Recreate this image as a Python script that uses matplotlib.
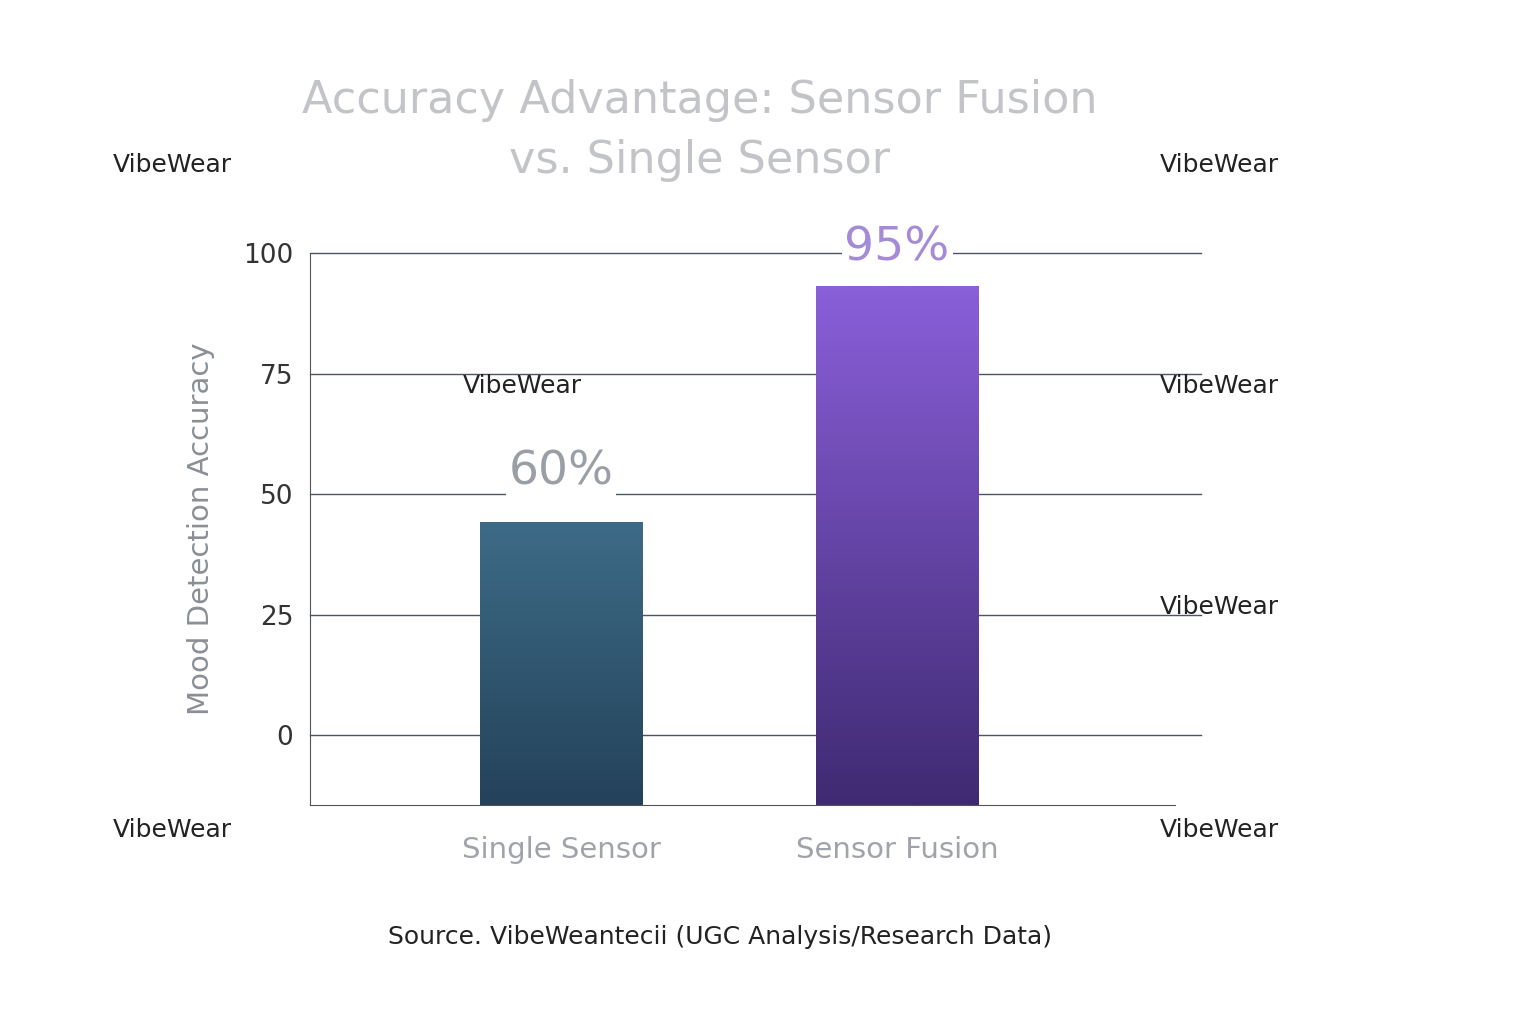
import matplotlib
matplotlib.use("Agg")
import matplotlib.pyplot as plt
import numpy as np
from matplotlib.colors import LinearSegmentedColormap

categories = ["Single Sensor", "Sensor Fusion"]
bar_heights = [44, 93]
value_labels = ["60%", "95%"]
yticks = [0, 25, 50, 75, 100]

fig = plt.figure(figsize=(15.36, 10.24), dpi=100)
ax = fig.add_axes([310/1536, (1024-805)/1024, 865/1536, 552/1024])
ymin, ymax = -14.5, 100
ax.set_xlim(-0.747, 1.827)
ax.set_ylim(ymin, ymax)
for y in yticks:
    ax.axhline(y, color="#4a5563", lw=1, xmin=0, xmax=1.03, clip_on=False, zorder=0)

cmaps = [LinearSegmentedColormap.from_list("a", ["#24425a", "#3d6b87"]),
         LinearSegmentedColormap.from_list("b", ["#3f2a72", "#8a5fd9"])]
w = 0.485
grad = np.linspace(0, 1, 256).reshape(-1, 1)
for i, (h, c) in enumerate(zip(bar_heights, cmaps)):
    ax.bar(i, h - ymin, bottom=ymin, width=w, color="none", edgecolor="none")
    ax.imshow(grad, extent=(i - w/2, i + w/2, ymin, h), origin="lower",
              cmap=c, aspect="auto", zorder=2)
    ax.text(i, h + 10.5 if i == 0 else 101, value_labels[i], ha="center", va="center",
            fontsize=34, color="#9a9fa6" if i == 0 else "#a58ad8", zorder=3,
            bbox=dict(facecolor="white", edgecolor="none", pad=2))

ax.set_xticks([0, 1])
ax.set_xticklabels(categories, fontsize=21, color="#a0a4aa")
ax.tick_params(axis="x", length=0, pad=22)
ax.set_yticks(yticks)
ax.set_yticklabels([str(t) for t in yticks], fontsize=19, color="#333")
ax.tick_params(axis="y", length=0, pad=12)
for s in ["top", "right"]:
    ax.spines[s].set_visible(False)
ax.spines["left"].set_color("#555")
ax.spines["bottom"].set_color("#555")
ax.set_ylabel("Mood Detection Accuracy", fontsize=21, color="#8a8f96", labelpad=20)

fig.text(700/1536, 1-100/1024, "Accuracy Advantage: Sensor Fusion", ha="center", va="center",
         fontsize=32, color="#c2c4c8")
fig.text(700/1536, 1-160/1024, "vs. Single Sensor", ha="center", va="center",
         fontsize=32, color="#c2c4c8")
for x, y in [(113, 165), (1160, 165), (463, 386), (1160, 386), (1160, 607),
             (113, 830), (1160, 830)]:
    fig.text(x/1536, 1-y/1024, "VibeWear", ha="left", va="center", fontsize=18, color="#222")
fig.text(720/1536, 1-937/1024, "Source. VibeWeantecii (UGC Analysis/Research Data)",
         ha="center", va="center", fontsize=18, color="#222")
fig.savefig("out.png", dpi=100, facecolor="white")
